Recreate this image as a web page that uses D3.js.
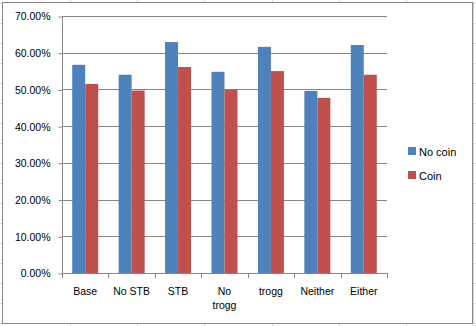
<!DOCTYPE html>
<html>
<head>
<meta charset="utf-8">
<script src="https://cdn.jsdelivr.net/npm/d3@7"></script>
<style>
  html, body { margin: 0; padding: 0; background: #fff; }
  svg { display: block; }
  text { font-family: "Liberation Sans", Arial, sans-serif; fill: #000; }
</style>
</head>
<body>
<svg id="chart" width="476" height="326"></svg>
<script>
const categories = ["Base", "No STB", "STB", "No trogg", "trogg", "Neither", "Either"];
const seriesNames = ["No coin", "Coin"];
const noCoin = [0.567, 0.540, 0.629, 0.548, 0.616, 0.496, 0.621];
const coin   = [0.515, 0.497, 0.561, 0.499, 0.550, 0.477, 0.540];
const yTicks = [0, 0.1, 0.2, 0.3, 0.4, 0.5, 0.6, 0.7];
const colors = ["#4F81BD", "#C0504D"];

const svg = d3.select("#chart");
const W = 476, H = 326;

// spreadsheet background grid
const sheetCols = d3.range(70, W, 67.2);
const sheetRows = d3.range(3, H, 20);
svg.append("g").selectAll("line.c").data(sheetCols).join("line")
  .attr("x1", d => Math.round(d) + 0.5).attr("x2", d => Math.round(d) + 0.5)
  .attr("y1", 0).attr("y2", H).attr("stroke", "#d4d8e4");
svg.append("g").selectAll("line.r").data(sheetRows).join("line")
  .attr("x1", 0).attr("x2", W)
  .attr("y1", d => d + 0.5).attr("y2", d => d + 0.5).attr("stroke", "#d4d8e4");

// chart area
svg.append("rect").attr("x", 2.5).attr("y", 2.5).attr("width", 470).attr("height", 321)
  .attr("fill", "#fff").attr("stroke", "#868686");

const plotL = 62, plotR = 387, plotT = 16, plotB = 273;
const x = d3.scaleBand().domain(categories).range([plotL, plotR]).paddingInner(0.44).paddingOuter(0.22);
const x1 = d3.scaleBand().domain(seriesNames).range([0, x.bandwidth()]);
const y = d3.scaleLinear().domain([0, 0.7]).range([plotB, plotT]);

// gridlines
svg.append("g").selectAll("line").data(yTicks.filter(t => t > 0)).join("line")
  .attr("x1", plotL).attr("x2", plotR)
  .attr("y1", d => Math.round(y(d)) + 0.5).attr("y2", d => Math.round(y(d)) + 0.5)
  .attr("stroke", "#868686");

// bars
const series = [noCoin, coin];
series.forEach((vals, si) => {
  svg.append("g").selectAll("rect").data(categories).join("rect")
    .attr("x", (c) => x(c) + x1(seriesNames[si]))
    .attr("width", x1.bandwidth())
    .attr("y", (c, i) => y(vals[i]))
    .attr("height", (c, i) => plotB - y(vals[i]))
    .attr("fill", colors[si]);
});

// y axis
const yAxis = d3.axisLeft(y).tickValues(yTicks).tickFormat(d3.format(".2%")).tickSize(4).tickPadding(8);
const gy = svg.append("g").attr("transform", `translate(${plotL + 0.5},0.5)`).call(yAxis);
gy.select(".domain").attr("stroke", "#868686").attr("d", `M0,${plotT}V${plotB}`);
gy.selectAll(".tick line").attr("stroke", "#868686");
gy.selectAll(".tick text").attr("font-size", "10.5px").attr("font-family", "Liberation Sans, Arial, sans-serif").attr("fill", "#000");

// x axis
const gx = svg.append("g");
gx.append("line").attr("x1", plotL).attr("x2", plotR + 0.5).attr("y1", plotB + 0.5).attr("y2", plotB + 0.5).attr("stroke", "#868686");
const bounds = categories.map(c => x(c) - x.step() * 0.22).concat([plotR]);
gx.selectAll("line.t").data(bounds).join("line")
  .attr("x1", d => Math.round(d) + 0.5).attr("x2", d => Math.round(d) + 0.5)
  .attr("y1", plotB).attr("y2", plotB + 5).attr("stroke", "#868686");
const labels = gx.selectAll("text").data(categories).join("text")
  .attr("x", d => x(d) + x.bandwidth() / 2)
  .attr("y", 295)
  .attr("text-anchor", "middle")
  .attr("font-size", "10.5px")
  .text(d => d);
labels.each(function(d) {
  const t = d3.select(this);
  if (this.getComputedTextLength() > 39 && d.includes(" ")) {
    const words = d.split(" ");
    const cx = t.attr("x");
    t.text(null);
    words.forEach((w, i) => {
      t.append("tspan").attr("x", cx).attr("dy", i === 0 ? 0 : 14).text(w);
    });
  }
});

// legend
const leg = svg.append("g");
seriesNames.forEach((s, i) => {
  const ly = 147 + i * 24;
  leg.append("rect").attr("x", 408).attr("y", ly).attr("width", 8).attr("height", 8).attr("fill", colors[i]);
  leg.append("text").attr("x", 419).attr("y", ly + 8.5).attr("font-size", "11px").text(s);
});
</script>
</body>
</html>
